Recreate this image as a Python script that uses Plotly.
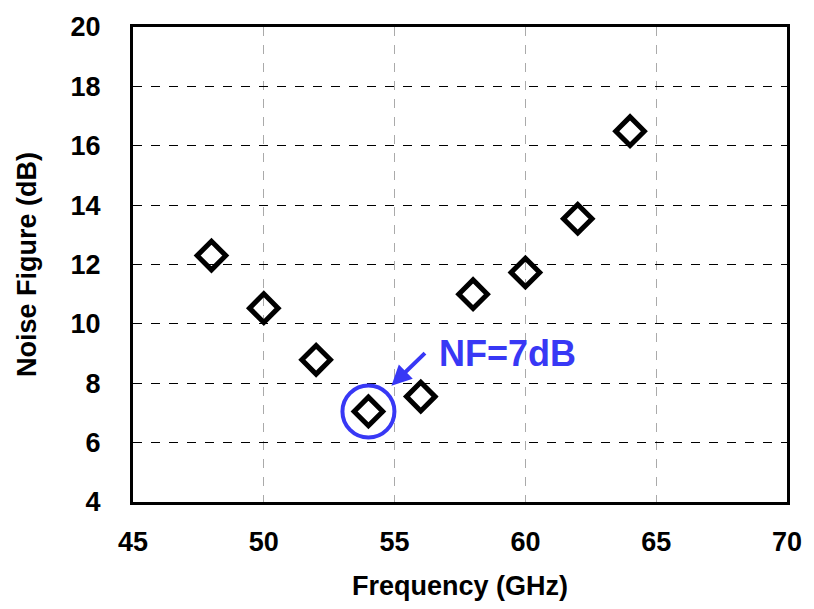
import plotly.graph_objects as go

freq = [48, 50, 52, 54, 56, 58, 60, 62, 64]
nf = [12.3, 10.53, 8.79, 7.05, 7.55, 11.0, 11.73, 13.54, 16.49]
x_ticks = [45, 50, 55, 60, 65, 70]
y_ticks = [4, 6, 8, 10, 12, 14, 16, 18, 20]

FONT = "Liberation Sans, Arial, sans-serif"
BLUE = "#3838F5"

fig = go.Figure()
fig.add_trace(go.Scatter(
    x=freq, y=nf, mode="markers",
    marker=dict(symbol="diamond-open", size=22, color="black", line=dict(width=5, color="black")),
    showlegend=False,
))

fig.add_shape(type="circle", xref="x", yref="y", xsizemode="pixel", ysizemode="pixel",
              xanchor=54, yanchor=7.05, x0=-26, x1=26, y0=-26, y1=26,
              line=dict(color=BLUE, width=4))

fig.add_annotation(x=54.88, y=7.92, ax=35, ay=-34, showarrow=True, arrowhead=2,
                   arrowsize=1, arrowwidth=4, arrowcolor=BLUE, text="")
fig.add_annotation(x=59.33, y=8.99, text="<b>NF=7dB</b>", showarrow=False,
                   font=dict(family=FONT, size=36, color=BLUE))

fig.update_layout(
    width=814, height=609,
    margin=dict(l=133, r=18, t=24, b=107),
    plot_bgcolor="white", paper_bgcolor="white",
    font=dict(family=FONT, size=27, color="black"),
    xaxis=dict(range=[45, 70], tickvals=x_ticks, ticktext=[f"<b>{v}</b>" for v in x_ticks],
               showline=True, linecolor="black", linewidth=3,
               mirror=True, showgrid=True, gridcolor="#aaaaaa", griddash="dash", gridwidth=1,
               zeroline=False, ticks="", ticklabelstandoff=14,
               tickfont=dict(family=FONT, size=27, color="black"),
               title=dict(text="<b>Frequency (GHz)</b>", font=dict(family=FONT, size=27), standoff=20)),
    yaxis=dict(range=[4, 20], tickvals=y_ticks, ticktext=[f"<b>{v}</b>" for v in y_ticks],
               showline=True, linecolor="black", linewidth=3,
               mirror=True, showgrid=True, gridcolor="black", griddash="dash", gridwidth=1,
               zeroline=False, ticks="", ticklabelstandoff=24,
               tickfont=dict(family=FONT, size=27, color="black"),
               title=dict(text="<b>Noise Figure (dB)</b>", font=dict(family=FONT, size=27), standoff=27)),
)

fig.write_html("out.html")
